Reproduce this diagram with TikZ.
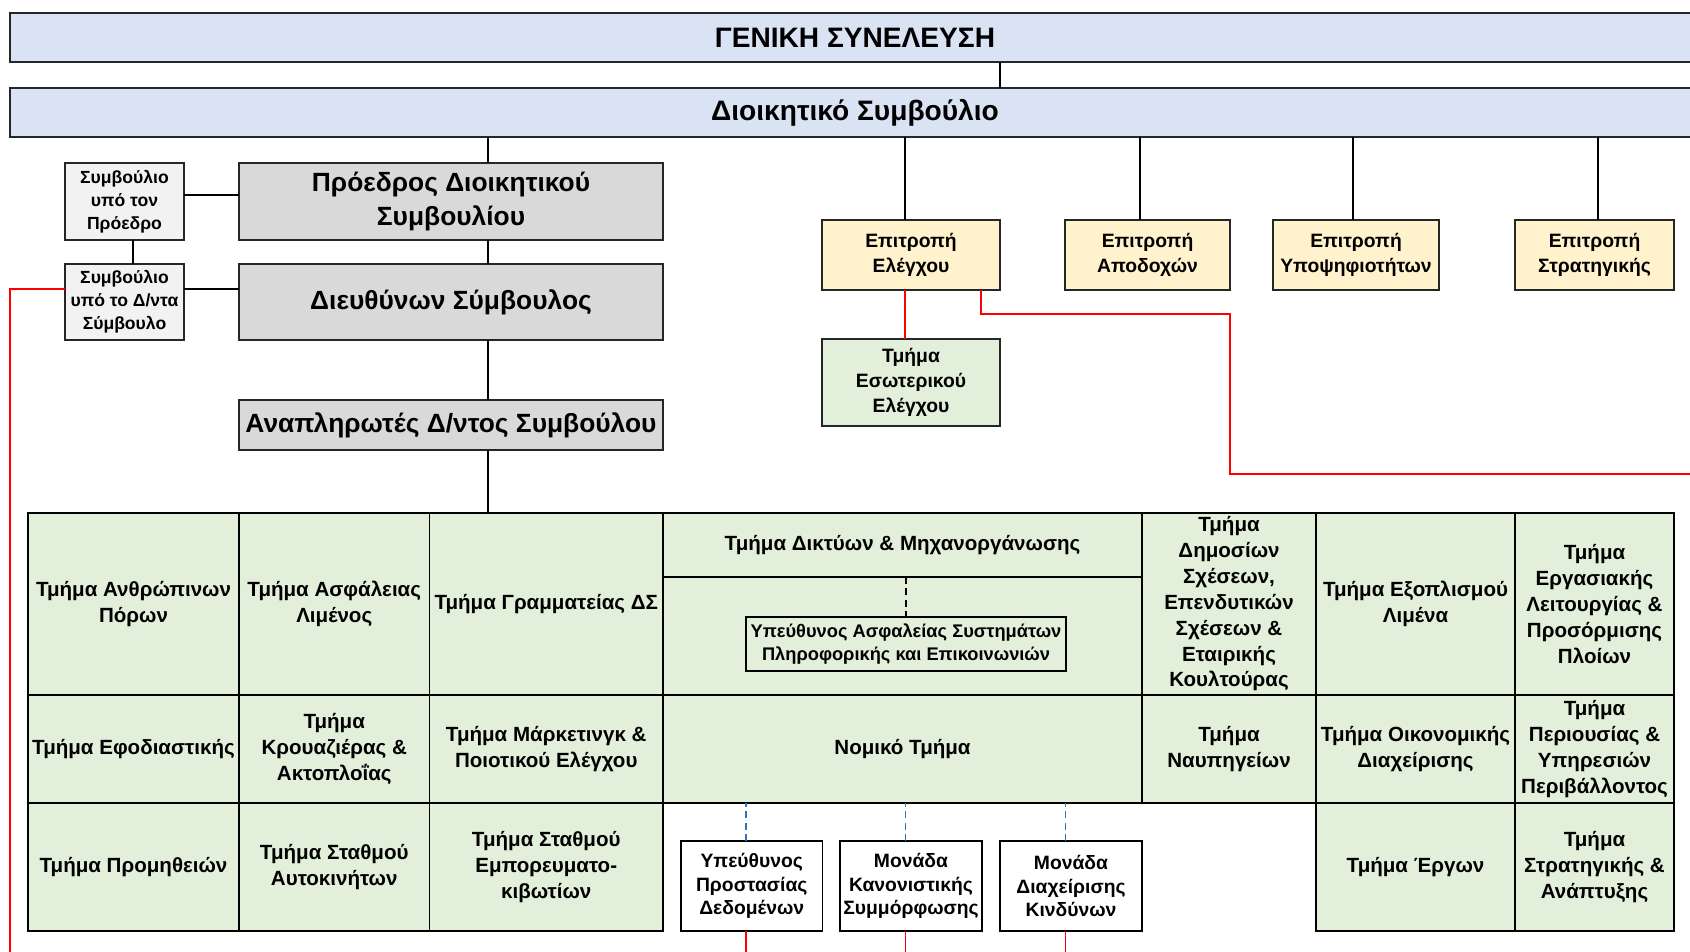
\documentclass[tikz,border=0pt]{standalone}
\usepackage{fontspec}
\setmainfont{Liberation Sans}
\usepackage{xcolor}

\definecolor{gsblue}{HTML}{DAE3F3}
\definecolor{boardgray}{HTML}{D9D9D9}
\definecolor{advgray}{HTML}{F2F2F2}
\definecolor{commyellow}{HTML}{FFF2CC}
\definecolor{deptgreen}{HTML}{E2EFDA}
\definecolor{linkblue}{HTML}{2E75B6}

\tikzset{
  sz/.style 2 args={minimum width=#1*0.02cm, minimum height=#2*0.02cm},
  base/.style={draw=black!85, line width=1.1pt, inner sep=0pt, outer sep=0pt, align=center},
  topbox/.style={base, fill=gsblue, sz={1690}{49}, font=\fontsize{16}{19}\selectfont\bfseries},
  headbox/.style={base, fill=boardgray, font=\fontsize{15}{19}\selectfont\bfseries},
  advbox/.style={base, fill=advgray, font=\fontsize{10}{13}\selectfont\bfseries},
  commbox/.style={base, fill=commyellow, font=\fontsize{11}{13.8}\selectfont\bfseries},
  cell/.style={base, draw=black, fill=deptgreen, font=\fontsize{11.7}{14.7}\selectfont\bfseries},
  unitbox/.style={base, draw=black, fill=white, font=\fontsize{11}{13.2}\selectfont\bfseries},
  link/.style={draw=black, line width=0.9pt},
  redline/.style={draw=red, line width=1.1pt},
  dashlink/.style={draw=black, line width=1.1pt, dash pattern=on 4pt off 2.5pt},
  bluelink/.style={draw=linkblue, line width=0.9pt, dash pattern=on 4pt off 2.5pt}
}

\begin{document}
\begin{tikzpicture}[x=0.02cm, y=0.02cm]
\useasboundingbox (0,0) rectangle (1690,952);
\clip (0,0) rectangle (1690,952);
\fill[white] (0,0) rectangle (1690,952);

\coordinate (gsx) at (1000,0);
\coordinate (trunk) at (488,0);
\coordinate (leftend) at (10,0);
\coordinate (auditK) at (1230,478);
\coordinate (auditE) at (1690,478);

% board
\node[topbox] (gs) at (855,914.5) {ΓΕΝΙΚΗ ΣΥΝΕΛΕΥΣΗ};
\node[topbox] (ds) at (855,839.5) {Διοικητικό Συμβούλιο};

\node[headbox, sz={424}{77}] (chair) at (451,750.5) {Πρόεδρος Διοικητικού\\Συμβουλίου};
\node[headbox, sz={424}{76}] (ceo) at (451,650) {Διευθύνων Σύμβουλος};
\node[headbox, sz={424}{50}] (deputy) at (451,527) {Αναπληρωτές Δ/ντος Συμβούλου};

\node[advbox, sz={119}{77}] (advchair) at (124.5,750.5) {Συμβούλιο\\υπό τον\\Πρόεδρο};
\node[advbox, sz={119}{76}] (advceo) at (124.5,650) {Συμβούλιο\\υπό το Δ/ντα\\Σύμβουλο};

% committees
\foreach \n/\x/\w/\t in {audit/911/178/{Επιτροπή\\Ελέγχου}, remun/1147.5/165/{Επιτροπή\\Αποδοχών},
	nomin/1356/166/{Επιτροπή\\Υποψηφιοτήτων}, strcom/1594.5/159/{Επιτροπή\\Στρατηγικής}}
	\node[commbox, sz={\w}{70}] (\n) at (\x,697) {\t};
\node[cell, draw=black!85, sz={178}{87}, font=\fontsize{11}{14.2}\selectfont\bfseries] (intaudit) at (911,569.5) {Τμήμα\\Εσωτερικού\\Ελέγχου};

% departments
\foreach \n/\x/\w/\t in {hr/133.5/211/{Τμήμα Ανθρώπινων\\Πόρων}, portsec/334.25/190.5/{Τμήμα Ασφάλειας\\Λιμένος},
	secr/546.25/233.5/{Τμήμα Γραμματείας ΔΣ},
	pr/1229/174/{Τμήμα\\Δημοσίων\\Σχέσεων,\\Επενδυτικών\\Σχέσεων \&\\Εταιρικής\\Κουλτούρας},
	equip/1415.5/199/{Τμήμα Εξοπλισμού\\Λιμένα},
	berth/1594.5/159/{Τμήμα\\Εργασιακής\\Λειτουργίας \&\\Προσόρμισης\\Πλοίων}}
	\node[cell, sz={\w}{182}] (\n) at (\x,348) {\t};
\node[cell, sz={479}{64}] (it) at (902.5,407) {Τμήμα Δικτύων \& Μηχανοργάνωσης};
\node[cell, sz={479}{118}] (itlow) at (902.5,316) {};
\node[unitbox, fill=none, sz={320}{54}, font=\fontsize{10.4}{12.8}\selectfont\bfseries] (isec) at (906,308) {Υπεύθυνος Ασφαλείας Συστημάτων\\Πληροφορικής και Επικοινωνιών};

\foreach \n/\x/\w/\t in {logi/133.5/211/{Τμήμα Εφοδιαστικής}, cruise/334.25/190.5/{Τμήμα\\Κρουαζιέρας \&\\Ακτοπλοΐας},
	mkt/546.25/233.5/{Τμήμα Μάρκετινγκ \&\\Ποιοτικού Ελέγχου}, legal/902.5/479/{Νομικό Τμήμα},
	yard/1229/174/{Τμήμα\\Ναυπηγείων}, fin/1415.5/199/{Τμήμα Οικονομικής\\Διαχείρισης},
	prop/1594.5/159/{Τμήμα\\Περιουσίας \&\\Υπηρεσιών\\Περιβάλλοντος}}
	\node[cell, sz={\w}{108}] (\n) at (\x,203) {\t};

\foreach \n/\x/\w/\t in {proc/133.5/211/{Τμήμα Προμηθειών}, cars/334.25/190.5/{Τμήμα Σταθμού\\Αυτοκινήτων},
	cont/546.25/233.5/{Τμήμα Σταθμού\\Εμπορευματο-\\κιβωτίων},
	works/1415.5/199/{Τμήμα Έργων}, strat/1594.5/159/{Τμήμα\\Στρατηγικής \&\\Ανάπτυξης}}
	\node[cell, sz={\w}{128}] (\n) at (\x,85) {\t};

\foreach \n/\x/\w/\t in {dpo/751.75/141.5/{Υπεύθυνος\\Προστασίας\\Δεδομένων},
	comp/911/142/{Μονάδα\\Κανονιστικής\\Συμμόρφωσης}, risk/1071/142/{Μονάδα\\Διαχείρισης\\Κινδύνων}}
	\node[unitbox, sz={\w}{90}] (\n) at (\x,66) {\t};

% lines
\draw[link] (gs.south -| gsx) -- (ds.north -| gsx);
\draw[link] (ds.south -| trunk) -- (chair.north -| trunk);
\draw[link] (chair.south -| trunk) -- (ceo.north -| trunk);
\draw[link] (ceo.south -| trunk) -- (deputy.north -| trunk);
\draw[link] (deputy.south -| trunk) -- (secr.north -| trunk);
\draw[link] ([yshift=0.13cm]advchair.east) -- ([yshift=0.13cm]advchair.east -| chair.west);
\draw[link] ([yshift=0.26cm]advceo.east) -- ([yshift=0.26cm]advceo.east -| ceo.west);
\draw[link] ([xshift=0.17cm]advchair.south) -- ([xshift=0.17cm]advceo.north);
\foreach \c/\s in {audit/-0.12, remun/-0.15, nomin/-0.06, strcom/0.07}
	\draw[link] ([xshift=\s cm]\c.north) -- ([xshift=\s cm]\c.north |- ds.south);

\draw[redline] ([xshift=-0.12cm]audit.south) -- ([xshift=-0.12cm]intaudit.north);
\draw[redline] ([xshift=1.4cm]audit.south) -- ++(0,-24) -| (auditK) -- (auditE);
\draw[redline] ([yshift=0.26cm]advceo.west) -| (leftend);

\draw[dashlink] (isec.north |- it.south) -- (isec.north);
\foreach \b in {dpo, comp, risk} {
	\draw[bluelink] ([xshift=-0.11cm]\b.north) -- ([xshift=-0.11cm]\b.north |- legal.south);
	\draw[redline] ([xshift=-0.11cm]\b.south) -- ([xshift=-0.11cm]\b.south |- leftend);
}
\end{tikzpicture}
\end{document}
